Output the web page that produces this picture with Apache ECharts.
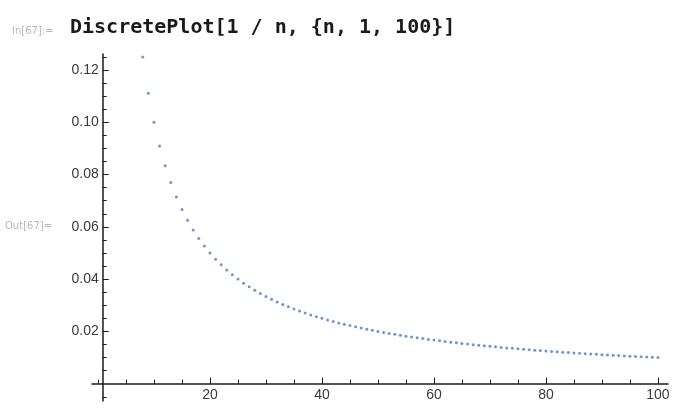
<!DOCTYPE html>
<html>
<head>
<meta charset="utf-8">
<script src="https://cdn.jsdelivr.net/npm/echarts@6/dist/echarts.min.js"></script>
<style>
  html, body { margin: 0; padding: 0; background: #fff; }
  #main { width: 675px; height: 417px; }
</style>
</head>
<body>
<div id="main"></div>
<script>
// DiscretePlot[1/n, {n, 1, 100}]
const nValues = [
  1, 2, 3, 4, 5, 6, 7, 8, 9, 10, 11, 12, 13, 14, 15, 16, 17, 18, 19, 20,
  21, 22, 23, 24, 25, 26, 27, 28, 29, 30, 31, 32, 33, 34, 35, 36, 37, 38, 39, 40,
  41, 42, 43, 44, 45, 46, 47, 48, 49, 50, 51, 52, 53, 54, 55, 56, 57, 58, 59, 60,
  61, 62, 63, 64, 65, 66, 67, 68, 69, 70, 71, 72, 73, 74, 75, 76, 77, 78, 79, 80,
  81, 82, 83, 84, 85, 86, 87, 88, 89, 90, 91, 92, 93, 94, 95, 96, 97, 98, 99, 100
];
const yValues = nValues.map((n) => 1 / n);

// tick marks (major = labelled, minor = short)
const xMajorTicks = [20, 40, 60, 80, 100];
const xMinorTicks = [0, 5, 10, 15, 25, 30, 35, 45, 50, 55, 65, 70, 75, 85, 90, 95];
const yMajorTicks = [0.02, 0.04, 0.06, 0.08, 0.1, 0.12];
const yMinorTicks = [-0.005, 0.005, 0.01, 0.015, 0.025, 0.03, 0.035, 0.045, 0.05, 0.055,
  0.065, 0.07, 0.075, 0.085, 0.09, 0.095, 0.105, 0.11, 0.115, 0.125];

const xRange = [-1.07, 101.8];
const yTop = 0.1261;
const yBottom = -0.0066;

const axisColor = "#1c1c1c";
const labelColor = "#3a3a3a";

// grid 0: points + x axis (bottom edge sits at y = 0)
// grid 1: the y axis, which runs a little below zero and sits just right of x = 0
const option = {
  backgroundColor: "#fff",
  animation: false,
  graphic: [
    {
      type: "text", left: 12, top: 26,
      style: { text: "In[67]:=", fill: "#b4b8c4", font: "10px 'DejaVu Sans'" },
    },
    {
      type: "text", left: 70, top: 18,
      style: {
        text: "DiscretePlot[1 / n, {n, 1, 100}]",
        fill: "#1a1a1a",
        font: "bold 20px 'DejaVu Sans Mono'",
      },
    },
    {
      type: "text", left: 5, top: 221,
      style: { text: "Out[67]=", fill: "#b4b8c4", font: "10px 'DejaVu Sans'" },
    },
  ],
  grid: [
    { left: 92, top: 54, width: 576, height: 329.7 },
    { left: 102.7, top: 54, width: 565, height: 347 },
  ],
  xAxis: [
    {
      gridIndex: 0, type: "value", position: "bottom", min: xRange[0], max: xRange[1],
      axisLine: { onZero: false, lineStyle: { color: axisColor, width: 1.5 } },
      axisTick: { customValues: xMajorTicks, inside: true, length: 6, lineStyle: { color: axisColor } },
      axisLabel: {
        customValues: xMajorTicks, color: labelColor, fontSize: 14, margin: 4,
        fontFamily: "Liberation Sans",
      },
      splitLine: { show: false },
    },
    {
      gridIndex: 0, type: "value", position: "bottom", min: xRange[0], max: xRange[1],
      axisLine: { show: false, onZero: false },
      axisTick: { customValues: xMinorTicks, inside: true, length: 4, lineStyle: { color: axisColor } },
      axisLabel: { show: false },
      splitLine: { show: false },
    },
    {
      gridIndex: 1, type: "value", show: false, min: 0, max: 1,
    },
  ],
  yAxis: [
    {
      gridIndex: 0, type: "value", show: false, min: 0, max: yTop,
    },
    {
      gridIndex: 1, type: "value", position: "left", min: yBottom, max: yTop,
      axisLine: { show: true, onZero: false, lineStyle: { color: axisColor, width: 1.5 } },
      axisTick: { customValues: yMajorTicks, inside: true, length: 6, lineStyle: { color: axisColor } },
      axisLabel: {
        customValues: yMajorTicks, color: labelColor, fontSize: 14, margin: 4,
        fontFamily: "Liberation Sans",
        formatter: (v) => v.toFixed(2),
      },
      splitLine: { show: false },
    },
    {
      gridIndex: 1, type: "value", position: "left", min: yBottom, max: yTop,
      axisLine: { show: false, onZero: false },
      axisTick: { customValues: yMinorTicks, inside: true, length: 4, lineStyle: { color: axisColor } },
      axisLabel: { show: false },
      splitLine: { show: false },
    },
  ],
  series: [
    {
      type: "scatter",
      xAxisIndex: 0,
      yAxisIndex: 0,
      clip: true,
      symbol: "circle",
      symbolSize: 3,
      itemStyle: { color: "#5f8ad0", opacity: 0.9 },
      data: nValues.map((n, i) => [n, yValues[i]]),
    },
  ],
};

const chart = echarts.init(document.getElementById("main"));
chart.setOption(option);
</script>
</body>
</html>
